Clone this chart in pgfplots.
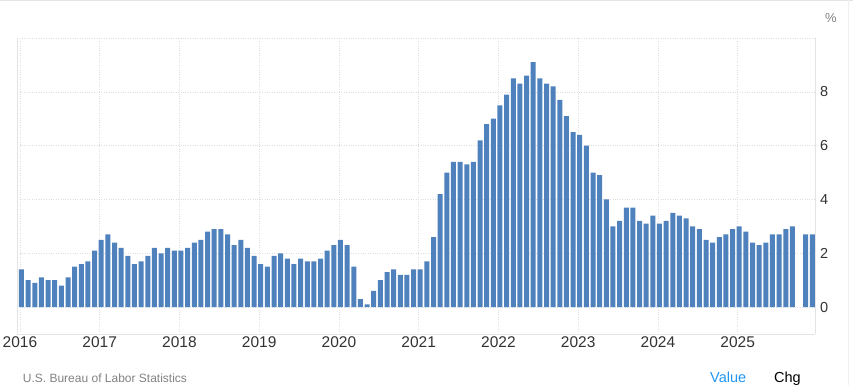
\documentclass[border=0pt]{standalone}
\usepackage{fontspec}
\setmainfont{Liberation Sans}
\usepackage{pgfplots}
\usepackage{pgfplotstable}
\pgfplotsset{compat=1.18}
\definecolor{barc}{RGB}{79,129,189}
\definecolor{gridc}{RGB}{222,222,222}
\definecolor{axc}{RGB}{228,228,228}
\definecolor{txt}{RGB}{51,51,51}
\definecolor{src}{RGB}{130,130,130}
\definecolor{valc}{RGB}{33,150,243}
\pgfplotstableread{
m v
0 1.4
1 1.0
2 0.9
3 1.1
4 1.0
5 1.0
6 0.8
7 1.1
8 1.5
9 1.6
10 1.7
11 2.1
12 2.5
13 2.7
14 2.4
15 2.2
16 1.9
17 1.6
18 1.7
19 1.9
20 2.2
21 2.0
22 2.2
23 2.1
24 2.1
25 2.2
26 2.4
27 2.5
28 2.8
29 2.9
30 2.9
31 2.7
32 2.3
33 2.5
34 2.2
35 1.9
36 1.6
37 1.5
38 1.9
39 2.0
40 1.8
41 1.6
42 1.8
43 1.7
44 1.7
45 1.8
46 2.1
47 2.3
48 2.5
49 2.3
50 1.5
51 0.3
52 0.1
53 0.6
54 1.0
55 1.3
56 1.4
57 1.2
58 1.2
59 1.4
60 1.4
61 1.7
62 2.6
63 4.2
64 5.0
65 5.4
66 5.4
67 5.3
68 5.4
69 6.2
70 6.8
71 7.0
72 7.5
73 7.9
74 8.5
75 8.3
76 8.6
77 9.1
78 8.5
79 8.3
80 8.2
81 7.7
82 7.1
83 6.5
84 6.4
85 6.0
86 5.0
87 4.9
88 4.0
89 3.0
90 3.2
91 3.7
92 3.7
93 3.2
94 3.1
95 3.4
96 3.1
97 3.2
98 3.5
99 3.4
100 3.3
101 3.0
102 2.9
103 2.5
104 2.4
105 2.6
106 2.7
107 2.9
108 3.0
109 2.8
110 2.4
111 2.3
112 2.4
113 2.7
114 2.7
115 2.9
116 3.0
118 2.7
119 2.7
}\cpidata
\begin{document}
\begin{tikzpicture}
\path[use as bounding box] (0pt,0pt) rectangle (853pt,385pt);
\draw[axc] (0pt,384.5pt)--(853pt,384.5pt);
\draw[axc!60] (848pt,0pt)--(848pt,385pt);
\begin{axis}[
  at={(17.3pt,51pt)}, anchor=south west,
  scale only axis, width=797.7pt, height=296pt,
  xmin=-0.63, xmax=119.4, ymin=-1, ymax=10,
  axis line style={draw=none},
  /pgf/number format/assume math mode=true,
  ytick={0,2,4,6,8},
  extra y ticks={10}, extra y tick labels={},
  extra tick style={grid=major},
  xtick={-0.23,11.77,23.77,35.77,47.77,59.77,71.77,83.77,95.77,107.77},
  xticklabels={2016,2017,2018,2019,2020,2021,2022,2023,2024,2025},
  grid=major, grid style={gridc, dotted, line width=0.6pt},
  major tick length=0pt,
  yticklabel pos=right,
  yticklabel style={anchor=west, xshift=1.5pt, font=\fontsize{14.5}{16}\selectfont, text=txt},
  xticklabel style={font=\fontsize{15.5}{17}\selectfont, text=txt, yshift=1pt},
  clip=false,
]
\addplot[ybar, bar width=5pt, bar shift=0pt, fill=barc, draw=none] table[x=m, y=v] {\cpidata};
\draw[axc, line width=0.8pt] (axis cs:-0.63,-1) -- (axis cs:119.4,-1);
\draw[axc, line width=0.8pt] (axis cs:-0.63,-1) -- (axis cs:-0.63,10);
\draw[axc, line width=0.8pt] (axis cs:119.4,-1) -- (axis cs:119.4,10);
\end{axis}
\node[anchor=center, inner sep=0, font=\fontsize{13}{14}\selectfont, text=src] at (831pt,366.7pt) {\%};
\node[anchor=base west, inner sep=0, font=\fontsize{12}{14}\selectfont, text=src] at (22.7pt,2pt) {U.S. Bureau of Labor Statistics};
\node[anchor=base west, inner sep=0, font=\fontsize{14.5}{16}\selectfont, text=valc] at (710pt,2.5pt) {Value};
\node[anchor=base west, inner sep=0, font=\fontsize{14.5}{16}\selectfont, text=black] at (774pt,2.5pt) {Chg};
\end{tikzpicture}
\end{document}
